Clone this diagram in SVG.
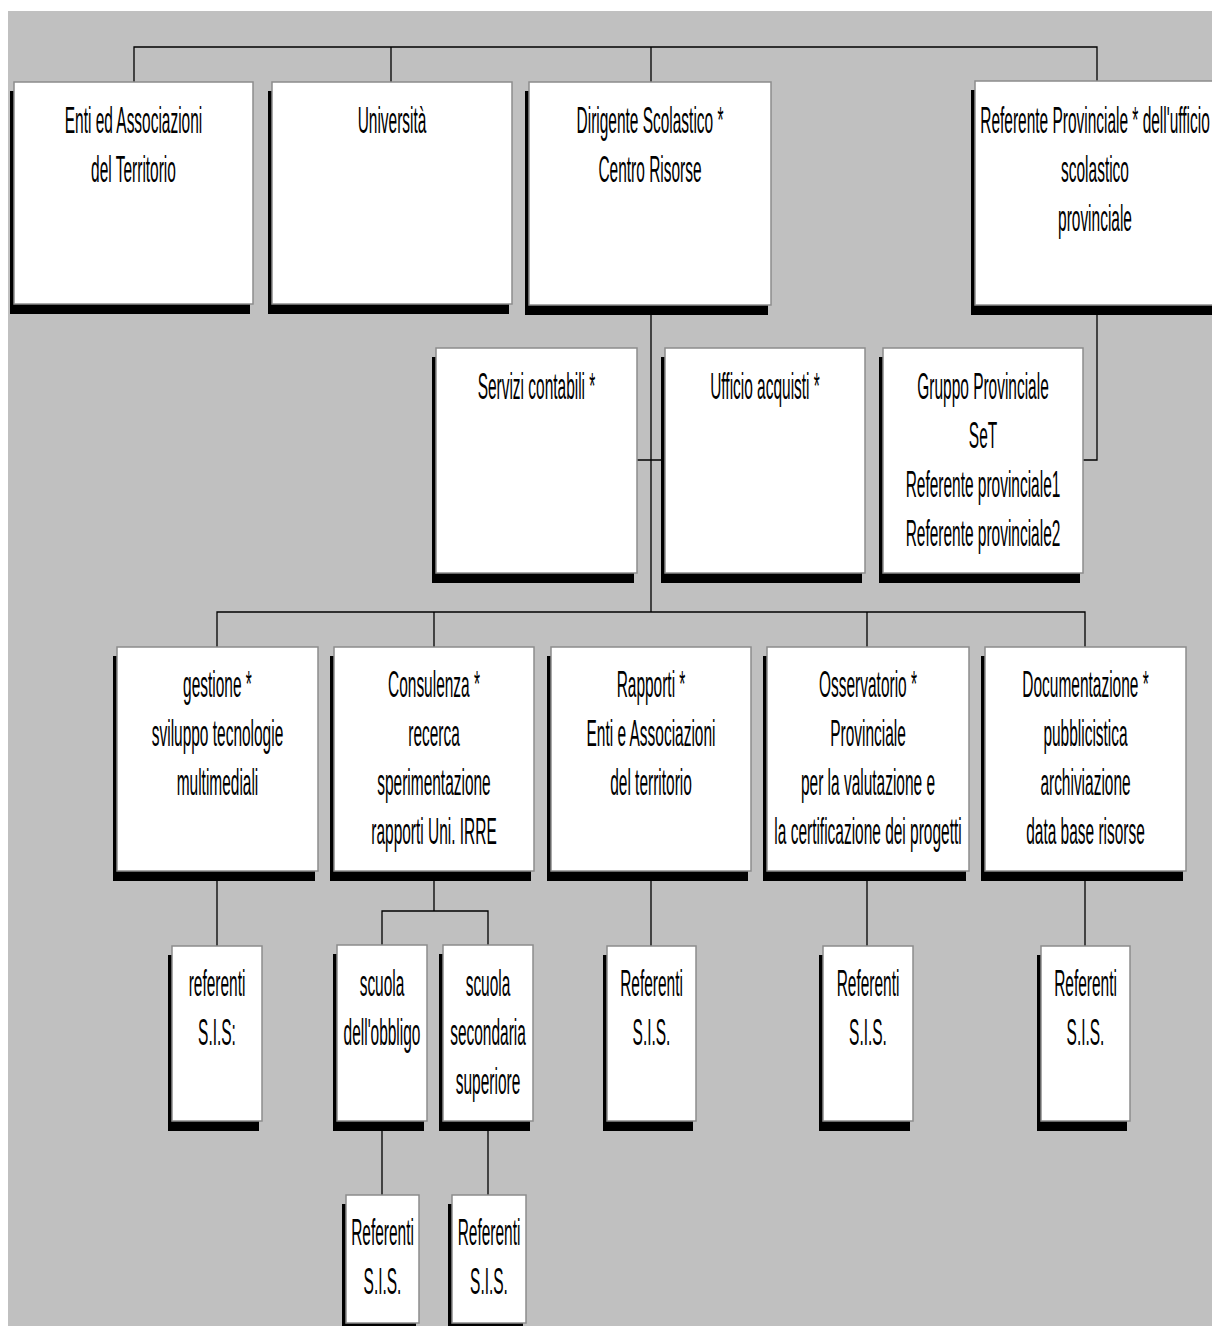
<svg xmlns="http://www.w3.org/2000/svg" width="1212" height="1326" viewBox="0 0 1212 1326">
<style>
.bg{fill:#c0c0c0}
.sh{fill:#000}
.bx{fill:#fff;stroke:#8c8c8c;stroke-width:1.5}
.t{font-family:"Liberation Sans",Arial,sans-serif;font-size:37px;text-anchor:middle;fill:#000}
.c{fill:none;stroke:#000;stroke-width:1.3}
</style>
<rect x="0" y="0" width="1212" height="1326" fill="#fff"/>
<rect class="bg" x="8" y="11" width="1204" height="1315"/>
<g id="connectors">
<path class="c" d="M134 82V47H1097V82M391 47V82M651 47V82"/>
<path class="c" d="M651 305V612M637 460H665M1097 305V460H1083"/>
<path class="c" d="M217 647V612H1085V647M434 612V647M867 612V647"/>
<path class="c" d="M217 871V946M651 871V946M867 871V946M1085 871V946"/>
<path class="c" d="M434 871V911M382 945V911H488V945"/>
<path class="c" d="M382 1121V1195M488 1121V1195"/>
</g>
<g id="n-enti">
<rect class="sh" x="10" y="91" width="240" height="223"/>
<rect class="bx" x="14" y="82" width="239" height="222"/>
<text class="t" transform="translate(133.5 133) scale(0.418 1)">Enti ed Associazioni</text>
<text class="t" transform="translate(133.5 182) scale(0.418 1)">del Territorio</text>
</g>
<g id="n-universita">
<rect class="sh" x="268" y="91" width="241" height="223"/>
<rect class="bx" x="272" y="82" width="240" height="222"/>
<text class="t" transform="translate(392 133) scale(0.418 1)">Università</text>
</g>
<g id="n-dirigente">
<rect class="sh" x="525" y="91" width="243" height="224"/>
<rect class="bx" x="529" y="82" width="242" height="223"/>
<text class="t" transform="translate(650 133) scale(0.418 1)">Dirigente Scolastico *</text>
<text class="t" transform="translate(650 182) scale(0.418 1)">Centro Risorse</text>
</g>
<g id="n-referente-prov">
<rect class="sh" x="971" y="90" width="243" height="225"/>
<rect class="bx" x="975" y="81" width="242" height="224"/>
<text class="t" transform="translate(1095 133) scale(0.418 1)">Referente Provinciale * dell'ufficio</text>
<text class="t" transform="translate(1095 182) scale(0.418 1)">scolastico</text>
<text class="t" transform="translate(1095 231) scale(0.418 1)">provinciale</text>
</g>
<g id="n-servizi">
<rect class="sh" x="432" y="357" width="202" height="226"/>
<rect class="bx" x="436" y="348" width="201" height="225"/>
<text class="t" transform="translate(536.5 399) scale(0.418 1)">Servizi contabili *</text>
</g>
<g id="n-ufficio">
<rect class="sh" x="661" y="357" width="201" height="226"/>
<rect class="bx" x="665" y="348" width="200" height="225"/>
<text class="t" transform="translate(765 399) scale(0.418 1)">Ufficio acquisti *</text>
</g>
<g id="n-gruppo">
<rect class="sh" x="879" y="357" width="201" height="226"/>
<rect class="bx" x="883" y="348" width="200" height="225"/>
<text class="t" transform="translate(983 399) scale(0.418 1)">Gruppo Provinciale</text>
<text class="t" transform="translate(983 448) scale(0.418 1)">SeT</text>
<text class="t" transform="translate(983 497) scale(0.418 1)">Referente provinciale1</text>
<text class="t" transform="translate(983 546) scale(0.418 1)">Referente provinciale2</text>
</g>
<g id="n-gestione">
<rect class="sh" x="113" y="656" width="202" height="225"/>
<rect class="bx" x="117" y="647" width="201" height="224"/>
<text class="t" transform="translate(217.5 697) scale(0.418 1)">gestione *</text>
<text class="t" transform="translate(217.5 746) scale(0.418 1)">sviluppo tecnologie</text>
<text class="t" transform="translate(217.5 795) scale(0.418 1)">multimediali</text>
</g>
<g id="n-consulenza">
<rect class="sh" x="330" y="656" width="201" height="225"/>
<rect class="bx" x="334" y="647" width="200" height="224"/>
<text class="t" transform="translate(434 697) scale(0.418 1)">Consulenza *</text>
<text class="t" transform="translate(434 746) scale(0.418 1)">recerca</text>
<text class="t" transform="translate(434 795) scale(0.418 1)">sperimentazione</text>
<text class="t" transform="translate(434 844) scale(0.418 1)">rapporti Uni. IRRE</text>
</g>
<g id="n-rapporti">
<rect class="sh" x="547" y="656" width="201" height="225"/>
<rect class="bx" x="551" y="647" width="200" height="224"/>
<text class="t" transform="translate(651 697) scale(0.418 1)">Rapporti *</text>
<text class="t" transform="translate(651 746) scale(0.418 1)">Enti e Associazioni</text>
<text class="t" transform="translate(651 795) scale(0.418 1)">del territorio</text>
</g>
<g id="n-osservatorio">
<rect class="sh" x="763" y="656" width="203" height="225"/>
<rect class="bx" x="767" y="647" width="202" height="224"/>
<text class="t" transform="translate(868 697) scale(0.418 1)">Osservatorio *</text>
<text class="t" transform="translate(868 746) scale(0.418 1)">Provinciale</text>
<text class="t" transform="translate(868 795) scale(0.418 1)">per la valutazione e</text>
<text class="t" transform="translate(868 844) scale(0.418 1)">la certificazione dei progetti</text>
</g>
<g id="n-documentazione">
<rect class="sh" x="981" y="656" width="202" height="225"/>
<rect class="bx" x="985" y="647" width="201" height="224"/>
<text class="t" transform="translate(1085.5 697) scale(0.418 1)">Documentazione *</text>
<text class="t" transform="translate(1085.5 746) scale(0.418 1)">pubblicistica</text>
<text class="t" transform="translate(1085.5 795) scale(0.418 1)">archiviazione</text>
<text class="t" transform="translate(1085.5 844) scale(0.418 1)">data base risorse</text>
</g>
<g id="n-ref-gestione">
<rect class="sh" x="168" y="955" width="91" height="176"/>
<rect class="bx" x="172" y="946" width="90" height="175"/>
<text class="t" transform="translate(217 996) scale(0.418 1)">referenti</text>
<text class="t" transform="translate(217 1045) scale(0.418 1)">S.I.S:</text>
</g>
<g id="n-scuola-obbligo">
<rect class="sh" x="333" y="954" width="91" height="177"/>
<rect class="bx" x="337" y="945" width="90" height="176"/>
<text class="t" transform="translate(382 996) scale(0.418 1)">scuola</text>
<text class="t" transform="translate(382 1045) scale(0.418 1)">dell'obbligo</text>
</g>
<g id="n-scuola-secondaria">
<rect class="sh" x="439" y="954" width="91" height="177"/>
<rect class="bx" x="443" y="945" width="90" height="176"/>
<text class="t" transform="translate(488 996) scale(0.418 1)">scuola</text>
<text class="t" transform="translate(488 1045) scale(0.418 1)">secondaria</text>
<text class="t" transform="translate(488 1094) scale(0.418 1)">superiore</text>
</g>
<g id="n-ref-rapporti">
<rect class="sh" x="603" y="955" width="90" height="176"/>
<rect class="bx" x="607" y="946" width="89" height="175"/>
<text class="t" transform="translate(651.5 996) scale(0.418 1)">Referenti</text>
<text class="t" transform="translate(651.5 1045) scale(0.418 1)">S.I.S.</text>
</g>
<g id="n-ref-osservatorio">
<rect class="sh" x="819" y="955" width="91" height="176"/>
<rect class="bx" x="823" y="946" width="90" height="175"/>
<text class="t" transform="translate(868 996) scale(0.418 1)">Referenti</text>
<text class="t" transform="translate(868 1045) scale(0.418 1)">S.I.S.</text>
</g>
<g id="n-ref-documentazione">
<rect class="sh" x="1037" y="955" width="90" height="176"/>
<rect class="bx" x="1041" y="946" width="89" height="175"/>
<text class="t" transform="translate(1085.5 996) scale(0.418 1)">Referenti</text>
<text class="t" transform="translate(1085.5 1045) scale(0.418 1)">S.I.S.</text>
</g>
<g id="n-ref-obbligo">
<rect class="sh" x="342" y="1204" width="74" height="129"/>
<rect class="bx" x="346" y="1195" width="73" height="128"/>
<text class="t" transform="translate(382.5 1245) scale(0.418 1)">Referenti</text>
<text class="t" transform="translate(382.5 1294) scale(0.418 1)">S.I.S.</text>
</g>
<g id="n-ref-secondaria">
<rect class="sh" x="448" y="1204" width="75" height="129"/>
<rect class="bx" x="452" y="1195" width="74" height="128"/>
<text class="t" transform="translate(489 1245) scale(0.418 1)">Referenti</text>
<text class="t" transform="translate(489 1294) scale(0.418 1)">S.I.S.</text>
</g>
</svg>
